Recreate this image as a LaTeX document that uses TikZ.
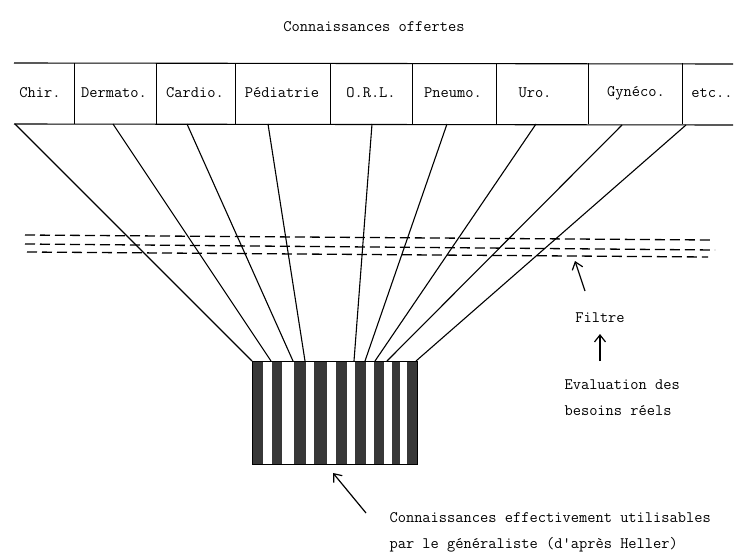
\documentclass[tikz,border=0pt]{standalone}
\usetikzlibrary{arrows.meta}
\begin{document}
\begin{tikzpicture}[x=1pt, y=-1pt, font=\ttfamily\fontsize{16}{19}\selectfont,
  fan/.style={-, line width=1.1pt, draw=black},
  fleche/.style={-{Straight Barb[length=7pt, width=11pt]}, line width=1.2pt, draw=black},
  filtre/.style={line width=1.3pt, draw=black, dash pattern=on 10pt off 5pt},
  bande/.style={fill=black!78, draw=none}]
\useasboundingbox (0,0) rectangle (747,552);
\node (titre) at (374,27) {Connaissances offertes};
% rangee des specialites
\draw[line width=1.1pt] (14,63) -- (733,64);
\draw[line width=1.1pt] (14,124) -- (733,125);
\foreach \x in {74,156,235,330,412,496,588,682} \draw[line width=0.9pt] (\x,63) -- (\x,124);
\node (chir) at (40,93) {Chir.};
\node (derm) at (114,93) {Dermato.};
\node (card) at (195,93) {Cardio.};
\node (pedi) at (282,93) {Pédiatrie};
\node (orl)  at (371,93) {O.R.L.};
\node (pneu) at (453,93) {Pneumo.};
\node (uro)  at (535,93) {Uro.};
\node (gyne) at (636,93) {Gynéco.};
\node (etc)  at (712,93) {etc..};
\coordinate (h1) at (15,124);
\coordinate (h2) at (113,124);
\coordinate (h3) at (187,124);
\coordinate (h4) at (268,124);
\coordinate (h5) at (372,124);
\coordinate (h6) at (447,124);
\coordinate (h7) at (536,124);
\coordinate (h8) at (622,125);
\coordinate (h9) at (686,125);
% filtre
\draw[filtre] (25,235) -- (710,240);
\draw[filtre] (25,244) -- (715,250);
\draw[filtre] (27,252) -- (708,257);
% bloc du generaliste
\fill[bande] (252,361) rectangle (263,464);
\fill[bande] (272,361) rectangle (282,464);
\fill[bande] (294,361) rectangle (306,464);
\fill[bande] (314,361) rectangle (327,464);
\fill[bande] (336,361) rectangle (347,464);
\fill[bande] (355,361) rectangle (366,464);
\fill[bande] (374,361) rectangle (384,464);
\fill[bande] (392,361) rectangle (400,464);
\fill[bande] (407,361) rectangle (417,464);
\draw[line width=0.8pt] (252,361) rectangle (417,464);
\coordinate (b1) at (252,361);
\coordinate (b2) at (271,361);
\coordinate (b3) at (293,361);
\coordinate (b4) at (305,361);
\coordinate (b5) at (354,361);
\coordinate (b6) at (365,361);
\coordinate (b7) at (375,361);
\coordinate (b8) at (387,361);
\coordinate (b9) at (416,361);
\path [fan] (h1) edge (b1);
\path [fan] (h2) edge (b2);
\path [fan] (h3) edge (b3);
\path [fan] (h4) edge (b4);
\path [fan] (h5) edge (b5);
\path [fan] (h6) edge (b6);
\path [fan] (h7) edge (b7);
\path [fan] (h8) edge (b8);
\path [fan] (h9) edge (b9);
% legendes
\coordinate (f0) at (585,291);
\coordinate (f1) at (575,261);
\node (filt) at (600,318) {Filtre};
\node[anchor=west] (eval) at (561,385) {Evaluation des};
\node[anchor=west] (beso) at (561,411) {besoins réels};
\coordinate (e0) at (600,361);
\coordinate (e1) at (600,334);
\draw[fleche] (f0) -- (f1);
\draw[fleche] (e0) -- (e1);
\node[anchor=west] (conn) at (386,518) {Connaissances effectivement utilisables};
\node[anchor=west] (gene) at (386,545) {par le généraliste (d'après Heller)};
\coordinate (g0) at (366,513);
\coordinate (g1) at (333,473);
\draw[fleche] (g0) -- (g1);
\end{tikzpicture}
\end{document}
